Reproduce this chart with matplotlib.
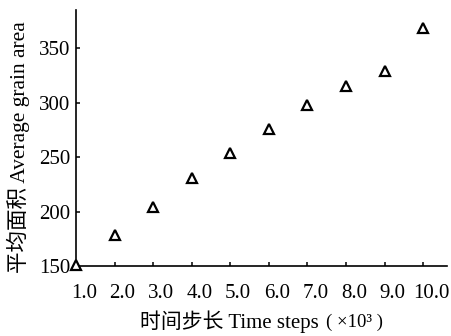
import matplotlib
matplotlib.use('Agg')
import matplotlib.pyplot as plt
from matplotlib.transforms import ScaledTranslation

# data
time_steps = [1, 2, 3, 4, 5, 6, 7, 8, 9, 10]
grain_area = [151, 178.5, 204, 230.5, 253.5, 275.5, 297.5, 315.5, 329, 368.5]
x_tick_labels = ['1.0', '2.0', '3.0', '4.0', '5.0', '6.0', '7.0', '8.0', '9.0', '10.0']
y_ticks = [150, 200, 250, 300, 350]

plt.rcParams['font.family'] = ['Liberation Serif', 'Noto Sans CJK SC']

fig = plt.figure(figsize=(4.52, 3.36), dpi=100)
ax = fig.add_axes([0.168, 0.208, 0.821, 0.762])

ax.plot(time_steps, grain_area, linestyle='none', marker='^', markersize=6.5,
        markerfacecolor='white', markeredgecolor='black', markeredgewidth=1.6,
        clip_on=False, zorder=5)

ax.set_xlim(1, 10.62)
ax.set_ylim(150, 385)
ax.set_xticks(time_steps)
ax.set_xticklabels(x_tick_labels)
ax.set_yticks(y_ticks)

for side in ['top', 'right']:
    ax.spines[side].set_visible(False)
for side in ['left', 'bottom']:
    ax.spines[side].set_linewidth(1.2)

ax.tick_params(direction='in', length=3, width=1.1, labelsize=15)
ax.tick_params(axis='x', pad=13)
ax.tick_params(axis='y', pad=4)

# x tick labels sit a little right of their ticks in the reference
shift = ScaledTranslation(8 / 100, 0, fig.dpi_scale_trans)
for lbl in ax.get_xticklabels():
    lbl.set_transform(lbl.get_transform() + shift)

# x label: main part plus smaller unit part
fig.text(140 / 452, 1 - 322 / 336, '时间步长 Time steps', fontsize=15,
         ha='left', va='center')
fig.text(326 / 452, 1 - 322 / 336, '( ×10³ )', fontsize=13.5,
         ha='left', va='center')

ax.set_ylabel('平均面积 Average grain area', fontsize=15.5, va='center')
ax.yaxis.set_label_coords(-0.156, 0.465)

fig.savefig('out.png', dpi=100)
